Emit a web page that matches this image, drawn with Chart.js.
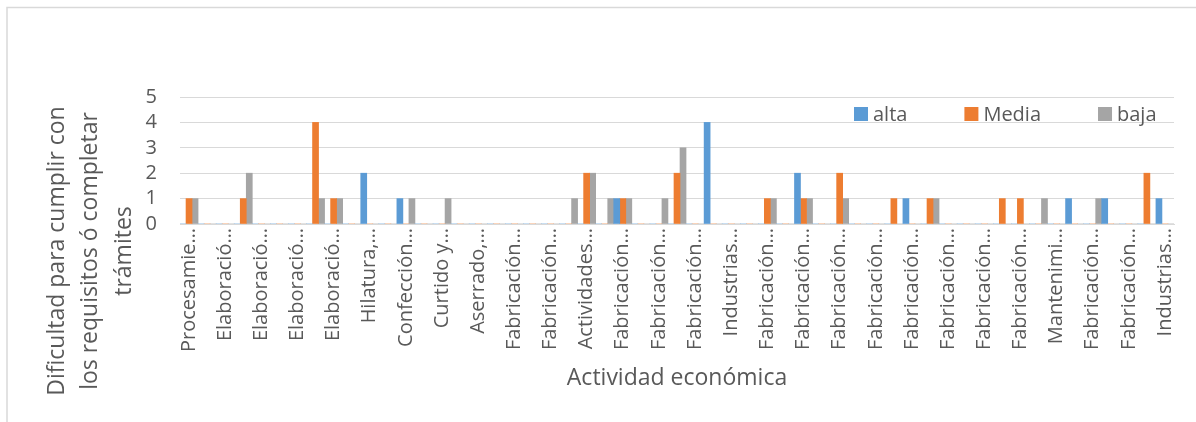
<!DOCTYPE html>
<html>
<head>
<meta charset="utf-8">
<script src="https://cdn.jsdelivr.net/npm/chart.js@4.4.1/dist/chart.umd.min.js"></script>
<style>
  html, body { margin: 0; padding: 0; background: #ffffff; }
  #grafico { display: block; }
</style>
</head>
<body>
<canvas id="grafico" width="1196" height="422"></canvas>
<script>
// Etiquetas visibles del eje X (una cada dos actividades)
const etiquetas = [
  'Procesamie…', 'Elaboració…', 'Elaboració…', 'Elaboració…', 'Elaboració…',
  'Hilatura,…', 'Confección…', 'Curtido y…', 'Aserrado,…', 'Fabricación…',
  'Fabricación…', 'Actividades…', 'Fabricación…', 'Fabricación…', 'Fabricación…',
  'Industrias…', 'Fabricación…', 'Fabricación…', 'Fabricación…', 'Fabricación…',
  'Fabricación…', 'Fabricación…', 'Fabricación…', 'Fabricación…', 'Mantenimi…',
  'Fabricación…', 'Fabricación…', 'Industrias…'
];

// Número de empresas por nivel de dificultad, una posición por actividad
const alta = [
  0, 0, 0, 0, 0,  0, 0, 0, 0, 0,  2, 0, 1, 0, 0,  0, 0, 0, 0, 0,
  0, 0, 0, 0, 1,  0, 0, 0, 0, 4,  0, 0, 0, 0, 2,  0, 0, 0, 0, 0,
  1, 0, 0, 0, 0,  0, 0, 0, 0, 1,  0, 1, 0, 0, 1
];
const media = [
  1, 0, 0, 1, 0,  0, 0, 4, 1, 0,  0, 0, 0, 0, 0,  0, 0, 0, 0, 0,
  0, 0, 2, 0, 1,  0, 0, 2, 0, 0,  0, 0, 1, 0, 1,  0, 2, 0, 0, 1,
  0, 1, 0, 0, 0,  1, 1, 0, 0, 0,  0, 0, 0, 2, 0
];
const baja = [
  1, 0, 0, 2, 0,  0, 0, 1, 1, 0,  0, 0, 1, 0, 1,  0, 0, 0, 0, 0,
  0, 1, 2, 1, 1,  0, 1, 3, 0, 0,  0, 0, 1, 0, 1,  0, 1, 0, 0, 0,
  0, 1, 0, 0, 0,  0, 0, 1, 0, 0,  1, 0, 0, 0, 0
];

const nombresSeries = ['alta', 'Media', 'baja'];
const colores = ['#5B9BD5', '#ED7D31', '#A5A5A5'];
const tituloY = ['Dificultad para cumplir con', 'los requisitos ó completar', 'trámites'];
const tituloX = 'Actividad económica';
const ticksY = [0, 1, 2, 3, 4, 5];

const categorias = alta.map((_, i) => (i % 2 === 0 ? etiquetas[i / 2] : ''));

const TEXTO = '#595959';
const REJILLA = '#D9D9D9';
const FUENTE = '"Open Sans", "DejaVu Sans", sans-serif';

// Fondo blanco y marco del gráfico
const marco = {
  id: 'marco',
  beforeDraw(chart) {
    const ctx = chart.ctx;
    ctx.save();
    ctx.fillStyle = '#ffffff';
    ctx.fillRect(0, 0, chart.width, chart.height);
    ctx.strokeStyle = REJILLA;
    ctx.lineWidth = 1.5;
    ctx.beginPath();
    ctx.moveTo(7, chart.height);
    ctx.lineTo(7, 7.5);
    ctx.lineTo(chart.width, 7.5);
    ctx.stroke();
    ctx.restore();
  }
};

// Título del eje vertical en tres líneas
const tituloVertical = {
  id: 'tituloVertical',
  afterDraw(chart) {
    const ctx = chart.ctx;
    ctx.save();
    ctx.fillStyle = TEXTO;
    ctx.font = '23px ' + FUENTE;
    ctx.textAlign = 'center';
    ctx.textBaseline = 'middle';
    const xs = [57, 90, 124];
    tituloY.forEach((linea, i) => {
      ctx.save();
      ctx.translate(xs[i], 251);
      ctx.rotate(-Math.PI / 2);
      ctx.fillText(linea, 0, 0);
      ctx.restore();
    });
    ctx.restore();
  }
};

// Leyenda dentro del área de trazado, arriba a la derecha
const leyenda = {
  id: 'leyenda',
  afterDraw(chart) {
    const ctx = chart.ctx;
    ctx.save();
    ctx.font = '20px ' + FUENTE;
    ctx.textBaseline = 'alphabetic';
    ctx.textAlign = 'left';
    let x = 854;
    chart.data.datasets.forEach((ds) => {
      ctx.fillStyle = ds.backgroundColor;
      ctx.fillRect(x, 107, 14, 14);
      ctx.fillStyle = TEXTO;
      ctx.fillText(ds.label, x + 19, 121);
      x += 19 + ctx.measureText(ds.label).width + 57;
    });
    ctx.restore();
  }
};

const series = [alta, media, baja];

new Chart(document.getElementById('grafico'), {
  type: 'bar',
  data: {
    labels: categorias,
    datasets: series.map((valores, i) => ({
      label: nombresSeries[i],
      data: valores,
      backgroundColor: colores[i],
      borderWidth: 0,
      barPercentage: 1,
      categoryPercentage: 1
    }))
  },
  options: {
    responsive: false,
    animation: false,
    devicePixelRatio: 1,
    layout: { padding: { left: 0, right: 22, top: 97, bottom: 0 } },
    plugins: {
      legend: { display: false },
      tooltip: { enabled: false }
    },
    scales: {
      x: {
        grid: { display: false, drawTicks: false },
        border: { display: true, color: REJILLA, width: 1 },
        ticks: {
          autoSkip: false,
          minRotation: 90,
          maxRotation: 90,
          padding: 4,
          color: TEXTO,
          font: { family: FUENTE, size: 20 }
        },
        title: {
          display: true,
          text: tituloX,
          color: TEXTO,
          font: { family: FUENTE, size: 23 },
          padding: { top: 0, bottom: 30 }
        },
        afterFit(scale) { scale.height = 198; }
      },
      y: {
        min: ticksY[0],
        max: ticksY[ticksY.length - 1],
        afterBuildTicks(scale) { scale.ticks = ticksY.map(v => ({ value: v })); },
        grid: { color: REJILLA, drawTicks: false, lineWidth: 1 },
        border: { display: false },
        ticks: {
          autoSkip: false,
          padding: 23,
          color: TEXTO,
          font: { family: FUENTE, size: 20 }
        },
        afterFit(scale) { scale.width = 180; }
      }
    }
  },
  plugins: [marco, tituloVertical, leyenda]
});
</script>
</body>
</html>
